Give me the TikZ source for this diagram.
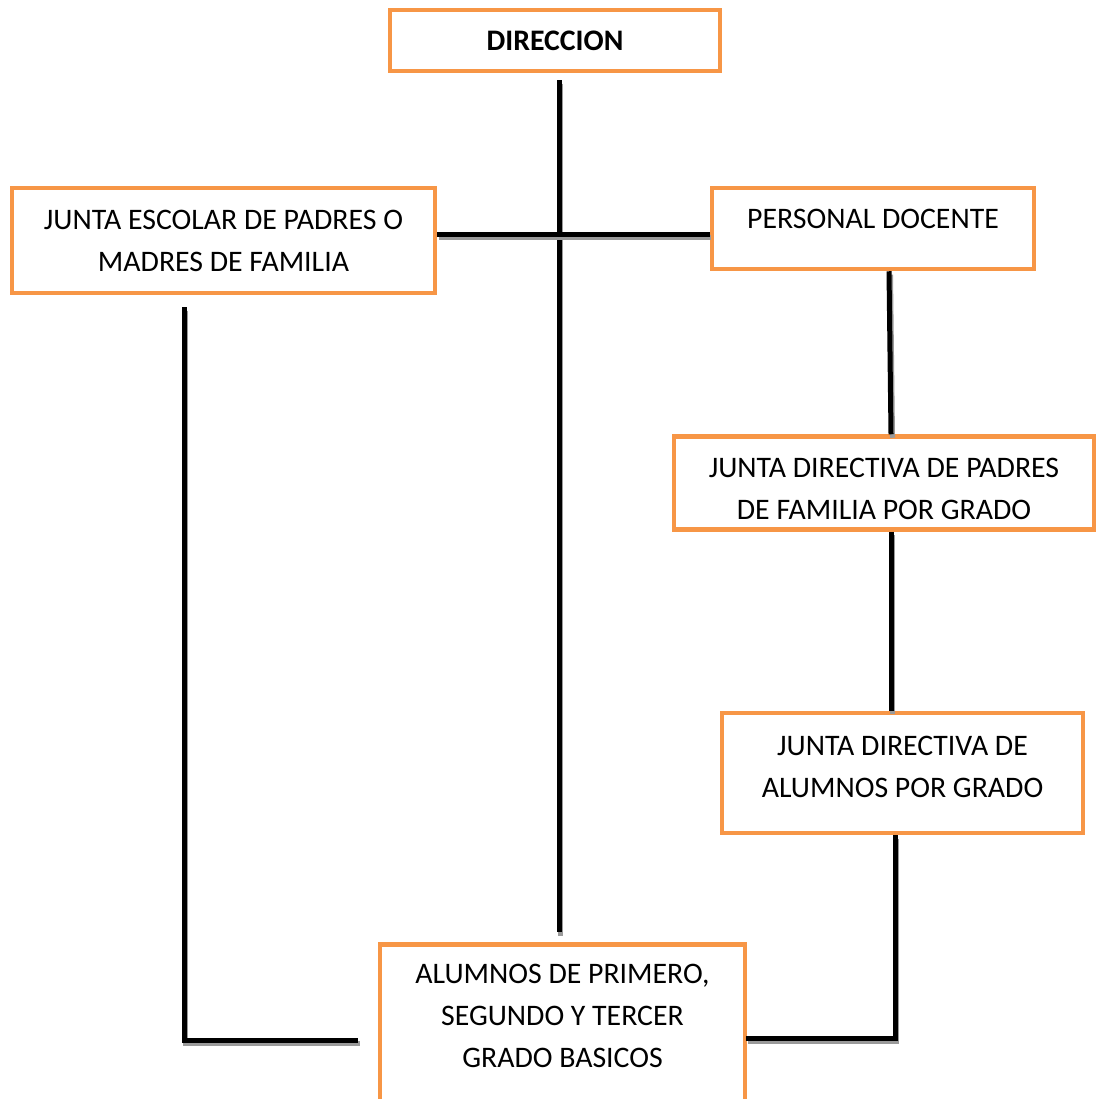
\documentclass[tikz,border=0pt]{standalone}
\usepackage{fontspec}
\setmainfont{Carlito}
\usepackage{tikz}
\usetikzlibrary{positioning,calc}
\definecolor{OrgOrange}{HTML}{F79646}
\definecolor{OrgShadow}{HTML}{9A9A9A}

\begin{document}
\begin{tikzpicture}[x=1pt,y=-1pt,
    box/.style={draw=OrgOrange,line width=4.5pt,fill=white,align=center,
      inner sep=0pt,font=\fontsize{29.8}{42}\selectfont},
    link/.style={line width=5pt,line join=miter,
      preaction={draw,OrgShadow,line width=5pt,
        transform canvas={shift={(1.5,3.5)}}}}
  ]
  \useasboundingbox (0,0) rectangle (1096,1099);

  % boxes
  \node[box,minimum width=330pt,minimum height=61pt] (dir) at (555,40.5)
    {\bfseries DIRECCION};
  \node[box,minimum width=423pt,minimum height=105pt] (junta) at (223.5,240.5)
    {JUNTA ESCOLAR DE PADRES O\\MADRES DE FAMILIA};
  \node[box,minimum width=322pt,minimum height=81pt] (docente) at (873,228.5)
    {PERSONAL DOCENTE\rule[-20pt]{0pt}{20pt}};
  \node[box,minimum width=420pt,minimum height=93pt] (padres) at (884,483)
    {\rule{0pt}{31pt}JUNTA DIRECTIVA DE PADRES\\DE FAMILIA POR GRADO};
  \node[box,minimum width=361pt,minimum height=120pt] (ajd) at (902.5,773)
    {JUNTA DIRECTIVA DE\\ALUMNOS POR GRADO\rule[-12pt]{0pt}{12pt}};
  \node[box,minimum width=365pt,text depth=70pt,inner ysep=20pt,anchor=north] (alum)
    at (562.5,942) {ALUMNOS DE PRIMERO,\\SEGUNDO Y TERCER\\GRADO BASICOS};

  % connectors
  \coordinate (hub) at (559,234.5);
  \coordinate (lowL) at (358,1040);
  \coordinate (lowR) at (746,1038);
  \draw[link] ([xshift=4pt,yshift=-7pt]dir.south) -- ([xshift=-3.5pt,yshift=10pt]alum.north);
  \draw[link] (junta.east |- hub) -- (docente.west |- hub);
  \draw[link] ([xshift=-39.5pt,yshift=-12pt]junta.south) |- (lowL);
  \draw[link] ([xshift=16pt]docente.south) -- ([xshift=7pt]padres.north);
  \draw[link] ([xshift=7pt]padres.south) -- ([xshift=-11.5pt]ajd.north);
  \draw[link] ([xshift=-7.5pt]ajd.south) |- (lowR);
\end{tikzpicture}
\end{document}
